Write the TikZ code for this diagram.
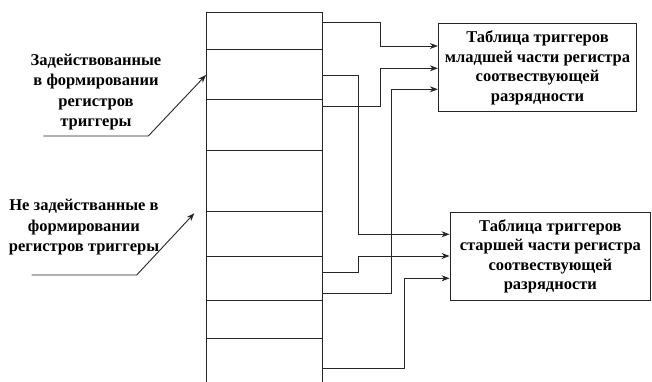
\documentclass[tikz,border=0pt]{standalone}
\usepackage{fontspec}
\newfontfamily\tnrb{Liberation Serif Bold}
\usetikzlibrary{arrows.meta,calc}
\begin{document}
\begin{tikzpicture}[x=1pt,y=-1pt,
  ln/.style={line width=0.9pt,draw=black!85},
  arr/.style={ln,-{Stealth[length=8pt,width=6pt]}},
  tbox/.style={ln,rectangle,align=center,inner sep=0pt,
    font=\tnrb\fontsize{16.5}{19.5}\selectfont},
  lbl/.style={align=center,inner sep=0pt,font=\tnrb\fontsize{16.5}{20.5}\selectfont}]
\useasboundingbox (0,0) rectangle (652,382);
% column
\coordinate (ctl) at (206.7,12.3);
\coordinate (ctr) at (322.5,12.3);
\coordinate (cbl) at (206.7,382);
\coordinate (cbr) at (322.5,382);
\draw[ln] (cbl) -- (ctl) -- (ctr) -- (cbr);
\foreach \y in {49.7,99.7,150,211.7,256,300.3,338}
  \draw[ln] (206.7,\y) -- (322.5,\y);
% boxes
\node[tbox,minimum width=198.4pt,minimum height=87.7pt] (ubox) at (537.5,67.8)
  {Таблица триггеров\\младшей части регистра\\соотвествующей\\разрядности};
\node[tbox,minimum width=200.8pt,minimum height=87.7pt] (lbox) at (550.4,256.2)
  {Таблица триггеров\\старшей части регистра\\соотвествующей\\разрядности};
% sources
\coordinate (s1) at (322.5,22.7);
\coordinate (s2) at (322.5,75);
\coordinate (s3) at (322.5,106);
\coordinate (s4) at (322.5,293.3);
\coordinate (s5) at (322.5,272.7);
\coordinate (s6) at (322.5,368.3);
% connectors to upper box
\draw[arr] (s1) -| (380.7,46) -- (ubox.west |- 0,46);
\draw[arr] (s3) -| (380.7,68.3) -- (ubox.west |- 0,68.3);
\draw[arr] (s4) -| (391.7,89.3) -- (ubox.west |- 0,89.3);
% connectors to lower box
\draw[arr] (s2) -| (358.3,234.3) -- (lbox.west |- 0,234.3);
\draw[arr] (s5) -| (358.3,256) -- (lbox.west |- 0,256);
\draw[arr] (s6) -| (404,278.3) -- (lbox.west |- 0,278.3);
% left labels
\node[lbl] (lab1) at (96,92) {Задействованные\\в формировании\\регистров\\триггеры};
\node[lbl] (lab2) at (84,227.5) {Не задействанные в\\формировании\\регистров триггеры};
\coordinate (l1a) at (43.3,136);
\coordinate (l1b) at (148.3,136);
\coordinate (l1t) at (206,75);
\coordinate (l2a) at (31.7,275);
\coordinate (l2b) at (136.7,275);
\coordinate (l2t) at (194.3,213.3);
\draw[arr] (l1a) -- (l1b) -- (l1t);
\draw[arr] (l2a) -- (l2b) -- (l2t);
\end{tikzpicture}
\end{document}
